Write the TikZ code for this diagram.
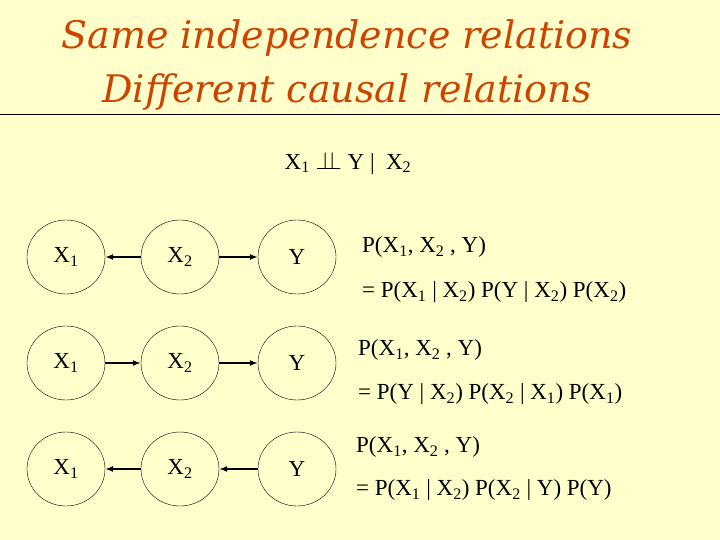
\documentclass[tikz,border=0pt]{standalone}
\usepackage{fontspec}
\setmainfont{Liberation Serif}
\newfontfamily\ttlfont{DejaVu Serif}
\usetikzlibrary{shapes.geometric,arrows.meta}
\definecolor{bg}{RGB}{255,255,204}
\definecolor{ttl}{RGB}{204,68,0}
\begin{document}
\begin{tikzpicture}[x=1pt,y=-1pt,
  var/.style={draw,ellipse,minimum width=78pt,minimum height=74pt,inner sep=0pt,font=\fontsize{23}{26}\selectfont},
  arr/.style={-{Latex[length=8pt,width=6pt]},line width=1.3pt},
  eq/.style={anchor=west,font=\fontsize{23}{26}\selectfont,inner sep=0pt},
  title/.style={ttl,font=\ttlfont\fontsize{38}{44}\selectfont\itshape}]
\fill[bg] (0,0) rectangle (720,540);
\useasboundingbox (0,0) rectangle (720,540);
\node[title] (t1) at (347,38) {Same independence relations};
\node[title] (t2) at (347,92) {Different causal relations};
\draw[line width=0.8pt] (0,114) -- (720,114);
\node[font=\fontsize{23}{26}\selectfont] (ind) at (348,163) {X\textsubscript{1} $\perp\!\!\!\perp$ Y | \ X\textsubscript{2}};
\foreach \r/\y in {a/257,b/363,c/469}{
  \node[var] (x1\r) at (66,\y) {X\textsubscript{1}};
  \node[var] (x2\r) at (180,\y) {X\textsubscript{2}};
  \node[var] (y\r) at (297,\y) {Y};
}
\draw[arr] (x2a) -- (x1a); \draw[arr] (x2a) -- (ya);
\draw[arr] (x1b) -- (x2b); \draw[arr] (x2b) -- (yb);
\draw[arr] (x2c) -- (x1c); \draw[arr] (yc) -- (x2c);
\node[eq] (e1) at (362,247) {P(X\textsubscript{1}, X\textsubscript{2} , Y)};
\node[eq] (e2) at (362,292) {= P(X\textsubscript{1} | X\textsubscript{2}) P(Y | X\textsubscript{2}) P(X\textsubscript{2})};
\node[eq] (e3) at (358,350) {P(X\textsubscript{1}, X\textsubscript{2} , Y)};
\node[eq] (e4) at (358,394) {= P(Y | X\textsubscript{2}) P(X\textsubscript{2} | X\textsubscript{1}) P(X\textsubscript{1})};
\node[eq] (e5) at (356,447) {P(X\textsubscript{1}, X\textsubscript{2} , Y)};
\node[eq] (e6) at (356,490) {= P(X\textsubscript{1} | X\textsubscript{2}) P(X\textsubscript{2} | Y) P(Y)};
\end{tikzpicture}
\end{document}
